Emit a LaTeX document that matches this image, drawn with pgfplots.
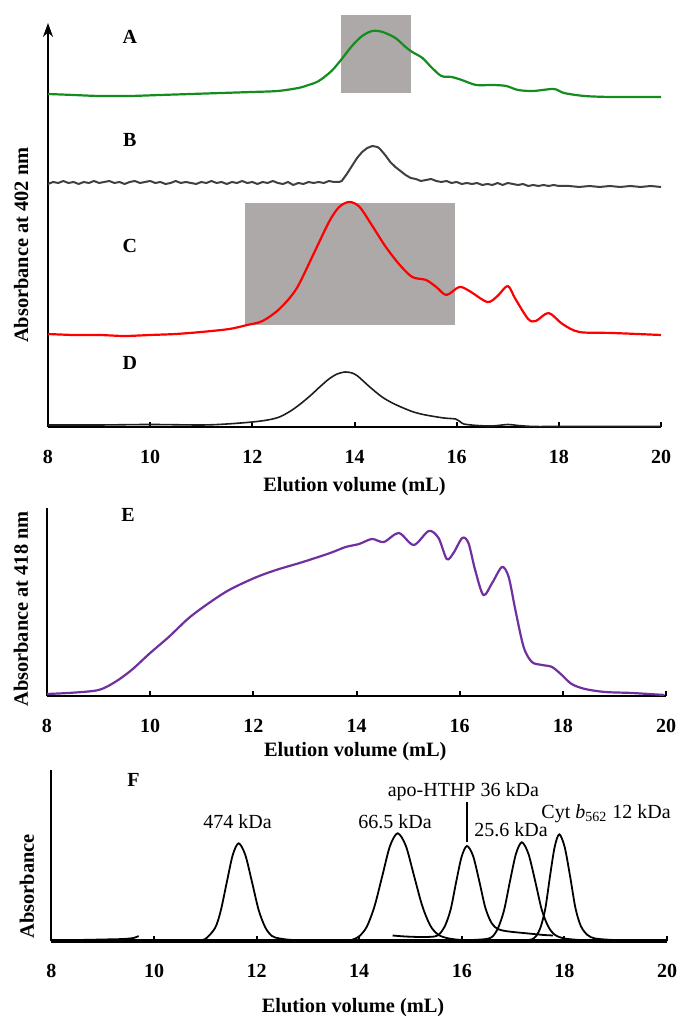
\documentclass[border=0pt]{standalone}
\usepackage{fontspec}
\setmainfont{Liberation Serif}
\usepackage{pgfplots}
\pgfplotsset{compat=1.18}
\usetikzlibrary{arrows.meta}

\definecolor{boxgray}{RGB}{173,169,168}
\definecolor{tracegreen}{RGB}{20,140,30}
\definecolor{tracegray}{RGB}{64,64,64}
\definecolor{tracedark}{RGB}{30,30,30}
\definecolor{tracepurple}{RGB}{112,48,160}

\pgfplotsset{
  secpanel/.style={
    scale only axis, anchor=south west, clip=false,
    xmin=8, xmax=20, ymin=0,
    axis x line=bottom, axis y line=left,
    axis line style={-, line width=1pt},
    xtick={8,10,...,20}, ytick=\empty,
    xtick align=inside, major tick length=2.5pt,
    every tick/.style={black, line width=1pt},
    /pgf/number format/assume math mode=true,
    tick label style={font=\fontsize{10}{12}\selectfont\bfseries},
    xticklabel shift=8pt,
    label style={font=\fontsize{10.2}{12}\selectfont\bfseries},
  },
}
\tikzset{
  tag/.style={font=\fontsize{10}{12}\selectfont\bfseries},
  ann/.style={font=\fontsize{10}{12}\selectfont},
}

\begin{document}
\begin{tikzpicture}
\useasboundingbox (0,0) rectangle (340pt,508pt);

% panel A-D
\begin{axis}[secpanel,
  at={(24pt,294.5pt)}, width=306.5pt, height=202pt, ymax=404,
  y axis line style={-{Stealth[length=7pt,width=5pt]}},
  xlabel={Elution volume (mL)}, ylabel={Absorbance at 402 nm},
  xlabel style={at={(axis description cs:0.5,-0.1485)}, anchor=center},
  ylabel style={at={(axis description cs:-0.044,0.45)}, anchor=center},
]
\fill[boxgray] (axis cs:13.74,334) rectangle (axis cs:15.11,412);
\fill[boxgray] (axis cs:11.86,102) rectangle (axis cs:15.96,224);
\addplot[tracegreen, line width=1.1pt, smooth] coordinates {
(8.0,333) (8.5,332) (9.0,331) (9.6,331) (10.2,332) (10.8,333) (11.4,334) (12.0,335)
(12.5,336) (12.9,339) (13.1,342) (13.3,346) (13.55,356) (13.75,368) (13.95,381)
(14.15,391) (14.35,396) (14.55,395) (14.8,389) (15.0,380) (15.13,375) (15.33,369)
(15.5,360) (15.7,351) (15.9,350) (16.1,347) (16.38,342) (16.7,342) (16.97,341)
(17.2,337) (17.5,336) (17.9,338) (18.1,334) (18.5,331) (19.0,330) (19.5,330) (20.0,330)};
% B: noisy baseline, peak near 14.4 mL
\addplot[tracegray, line width=1pt, line join=round] coordinates {
(8.0,243) (8.1,245) (8.2,244) (8.3,246) (8.4,244) (8.5,245) (8.6,243) (8.7,245)
(8.8,244) (8.9,246) (9.0,244) (9.1,245) (9.2,246) (9.3,244) (9.4,245) (9.5,243)
(9.6,245) (9.7,246) (9.8,244) (9.9,245) (10.0,246) (10.1,244) (10.2,245) (10.3,243)
(10.4,244) (10.5,246) (10.6,244) (10.7,245) (10.8,244) (10.9,243) (11.0,245)
(11.1,244) (11.2,246) (11.3,244) (11.4,245) (11.5,243) (11.6,245) (11.7,244)
(11.8,246) (11.9,244) (12.0,245) (12.1,243) (12.2,245) (12.3,244) (12.4,246)
(12.5,244) (12.6,243) (12.7,245) (12.8,242) (12.9,244) (13.0,243) (13.1,245)
(13.2,244) (13.3,245) (13.4,244) (13.5,246) (13.6,245) (13.7,245) (13.75,246)
(13.85,253) (13.95,261) (14.05,269) (14.15,275) (14.25,279) (14.35,281) (14.45,280)
(14.5,278) (14.6,272) (14.7,265) (14.8,260) (14.9,256) (15.0,252) (15.1,249)
(15.2,248) (15.3,246) (15.4,247) (15.5,248) (15.6,246) (15.7,245) (15.8,246)
(15.9,244) (16.0,245) (16.1,243) (16.2,244) (16.3,243) (16.4,244) (16.5,242)
(16.6,243) (16.7,242) (16.8,244) (16.9,242) (17.0,244) (17.1,243) (17.2,242)
(17.3,243) (17.4,241) (17.5,242) (17.6,241) (17.7,242) (17.8,241) (17.9,242)
(18.0,241) (18.2,241) (18.4,240) (18.6,241) (18.8,240) (19.0,241) (19.2,240)
(19.4,241) (19.6,240) (19.8,241) (20.0,240)};
\addplot[red, line width=1.1pt, smooth] coordinates {
(8.0,93) (8.5,92) (9.0,92) (9.5,91) (10.0,92) (10.5,93) (11.0,95) (11.55,98) (11.9,102)
(12.2,106) (12.53,118) (12.86,138) (13.18,171) (13.5,205) (13.7,220) (13.9,225)
(14.1,220) (14.35,201) (14.6,181) (14.87,163) (15.13,150) (15.4,147) (15.6,140)
(15.8,132) (16.05,140) (16.25,136) (16.6,125) (16.8,131) (17.0,141) (17.15,128)
(17.4,108) (17.55,106) (17.8,114) (18.07,103) (18.4,95) (19.05,94) (20.0,92)};
\addplot[tracedark, line width=0.8pt, smooth] coordinates {
(8.0,2) (9.0,2) (10.0,2.5) (11.0,2) (11.5,3) (12.0,5) (12.3,7) (12.53,10) (12.75,16)
(12.94,23) (13.15,32) (13.34,41) (13.5,48) (13.66,53) (13.82,55) (13.95,54) (14.06,51)
(14.3,40) (14.54,30) (14.78,23) (15.1,16) (15.3,13) (15.5,11) (15.75,9) (15.98,8)
(16.05,6) (16.14,3) (16.4,1.5) (16.7,1) (17.0,2.5) (17.2,1.5) (17.5,0.5) (18.0,0.5)
(19.0,0.5) (20.0,0.5)};
\node[tag] at (axis cs:9.6,390) {A};
\node[tag] at (axis cs:9.6,287) {B};
\node[tag] at (axis cs:9.6,181) {C};
\node[tag] at (axis cs:9.6,64) {D};
\end{axis}

% panel E
\begin{axis}[secpanel,
  at={(23.5pt,160pt)}, width=309.5pt, height=94pt, ymax=188,
  xlabel={Elution volume (mL)}, ylabel={Absorbance at 418 nm},
  xlabel style={at={(axis description cs:0.498,-0.298)}, anchor=center},
  ylabel style={at={(axis description cs:-0.042,0.463)}, anchor=center},
]
\addplot[tracepurple, line width=1.1pt, smooth] coordinates {
(8.0,2) (8.5,3.3) (9.0,6) (9.32,14) (9.64,26) (10.0,43) (10.36,59) (10.75,78)
(11.14,93) (11.53,106) (12.02,118) (12.44,126) (12.96,134) (13.49,143) (13.79,149)
(14.05,152) (14.3,157) (14.53,154) (14.82,163) (15.11,151) (15.4,165) (15.59,158)
(15.75,137) (15.88,143) (16.05,158) (16.17,153) (16.3,126) (16.46,101) (16.63,113)
(16.82,129) (16.95,119) (17.08,86) (17.24,49) (17.4,34) (17.6,31) (17.79,29)
(17.98,21) (18.17,12) (18.43,7) (18.82,4) (19.34,3) (19.97,1)};
\node[tag] at (axis cs:9.57,181) {E};
\end{axis}

% panel F
\begin{axis}[secpanel,
  at={(25.7pt,37.5pt)}, width=307.8pt, height=85.5pt, ymax=171,
  x axis line style={line width=1.6pt},
  xlabel={Elution volume (mL)}, ylabel={Absorbance},
  xlabel style={at={(axis description cs:0.49,-0.392)}, anchor=center},
  ylabel style={at={(axis description cs:-0.04,0.32)}, anchor=center},
]
\addplot[black, line width=0.9pt, smooth] coordinates {
(8.0,1) (8.5,1) (9.0,1.5) (9.4,2) (9.6,3) (9.7,5)};
\addplot[black, line width=0.9pt, smooth] coordinates {
(10.85,1) (11.0,2) (11.19,13) (11.3,30) (11.42,59) (11.535,86) (11.65,97.7)
(11.78,86) (11.91,59) (12.04,31) (12.17,13.5) (12.3,5) (12.45,2.5) (12.7,1) (13.1,0.5)};
\addplot[black, line width=0.9pt, smooth] coordinates {
(13.85,1) (14.0,4.7) (14.15,14.5) (14.3,35) (14.45,65) (14.6,95) (14.75,107.7)
(14.91,95) (15.07,65) (15.23,35) (15.39,15) (15.55,6) (15.75,2.5) (16.0,1) (16.3,0.5)};
\addplot[black, line width=0.9pt, smooth] coordinates {
(14.65,5.5) (14.9,4.5) (15.2,4) (15.47,4.5) (15.575,7.5) (15.68,16) (15.785,32)
(15.89,59) (15.995,84) (16.1,95) (16.22,85) (16.34,60) (16.46,33) (16.58,18)
(16.7,12) (16.85,10) (17.0,9) (17.2,8) (17.4,7) (17.6,6) (17.78,5.5)};
\addplot[black, line width=0.9pt, smooth] coordinates {
(16.2,1) (16.48,2) (16.6,4.5) (16.71,13.3) (16.825,31) (16.94,60) (17.055,87)
(17.17,98.7) (17.3,87) (17.43,60) (17.56,31) (17.69,14) (17.82,6) (18.0,2.5)
(18.3,1) (18.6,0.5)};
\addplot[black, line width=0.9pt, smooth] coordinates {
(17.26,1) (17.36,1.5) (17.45,5) (17.54,14.4) (17.63,33) (17.72,65) (17.81,94)
(17.9,106.7) (18.005,94) (18.11,65) (18.215,33) (18.32,15) (18.45,6) (18.6,2.5)
(18.95,1) (19.3,0.5) (20.0,0.5)};
\draw[line width=1.2pt] (axis cs:16.1,99) -- (axis cs:16.1,139);
\node[tag] at (axis cs:9.6,161) {F};
\node[ann] at (axis cs:11.63,119) {474 kDa};
\node[ann] at (axis cs:14.7,119) {66.5 kDa};
\node[ann] at (axis cs:16.03,149) {apo-HTHP 36 kDa};
\node[ann] at (axis cs:16.96,111.7) {25.6 kDa};
\node[ann, anchor=east] at (axis cs:20.21,127.7) {Cyt \textit{b}\textsubscript{562} 12 kDa};
\end{axis}
\end{tikzpicture}
\end{document}
